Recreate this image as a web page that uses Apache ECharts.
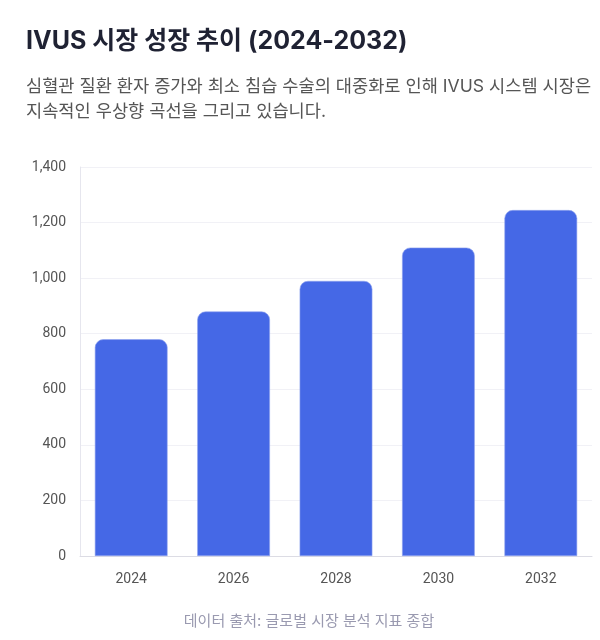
<!DOCTYPE html>
<html><head><meta charset="utf-8">
<script src="https://cdn.jsdelivr.net/npm/echarts@6/dist/echarts.min.js"></script>
<style>
html,body{margin:0;padding:0;background:#fff;width:600px;height:640px;overflow:hidden;font-family:Inter,"Noto Sans CJK KR",sans-serif;}
#chart{position:absolute;left:0;top:0;width:600px;height:640px;}
.t{position:absolute;left:26px;top:20px;font-size:25px;font-weight:700;color:#1f2233;white-space:nowrap;font-family:Inter,"Noto Sans CJK KR",sans-serif;}
.s{position:absolute;left:26px;top:73px;font-size:17.6px;line-height:25px;color:#555;width:590px;white-space:nowrap;font-family:Inter,"Noto Sans CJK KR",sans-serif;}
.f{position:absolute;left:0;width:618px;top:609px;text-align:center;font-size:15px;color:#9a9ab0;font-family:Inter,"Noto Sans CJK KR",sans-serif;}
</style></head>
<body>
<div id="chart"></div>
<div class="t">IVUS 시장 성장 추이 (2024-2032)</div>
<div class="s">심혈관 질환 환자 증가와 최소 침습 수술의 대중화로 인해 IVUS 시스템 시장은<br>지속적인 우상향 곡선을 그리고 있습니다.</div>
<div class="f">데이터 출처: 글로벌 시장 분석 지표 종합</div>
<script>
const years = ['2024','2026','2028','2030','2032'];
const marketValues = [780, 880, 990, 1110, 1245];
const chart = echarts.init(document.getElementById('chart'));
chart.setOption({
  animation:false,
  grid:{left:80,right:8,top:167,bottom:84},
  xAxis:{type:'category',data:years,
    axisLine:{lineStyle:{color:'#dcdce4'}},axisTick:{show:false},
    axisLabel:{color:'#555',fontSize:14,margin:16,fontFamily:'Roboto'}},
  yAxis:{type:'value',min:0,max:1400,interval:200,
    axisLine:{show:true,lineStyle:{color:'#e6e6ee'}},
    splitLine:{lineStyle:{color:'#f1f1f6'}},
    axisLabel:{color:'#555',fontSize:14,margin:14,fontFamily:'Roboto',
      formatter:v=>v.toLocaleString('en-US')}},
  series:[{type:'bar',data:marketValues,barWidth:'71%',
    itemStyle:{color:'#4568e6',borderRadius:[8,8,0,0],borderColor:'#8fa3ee',borderWidth:0.6}}]
});
</script>
</body></html>
